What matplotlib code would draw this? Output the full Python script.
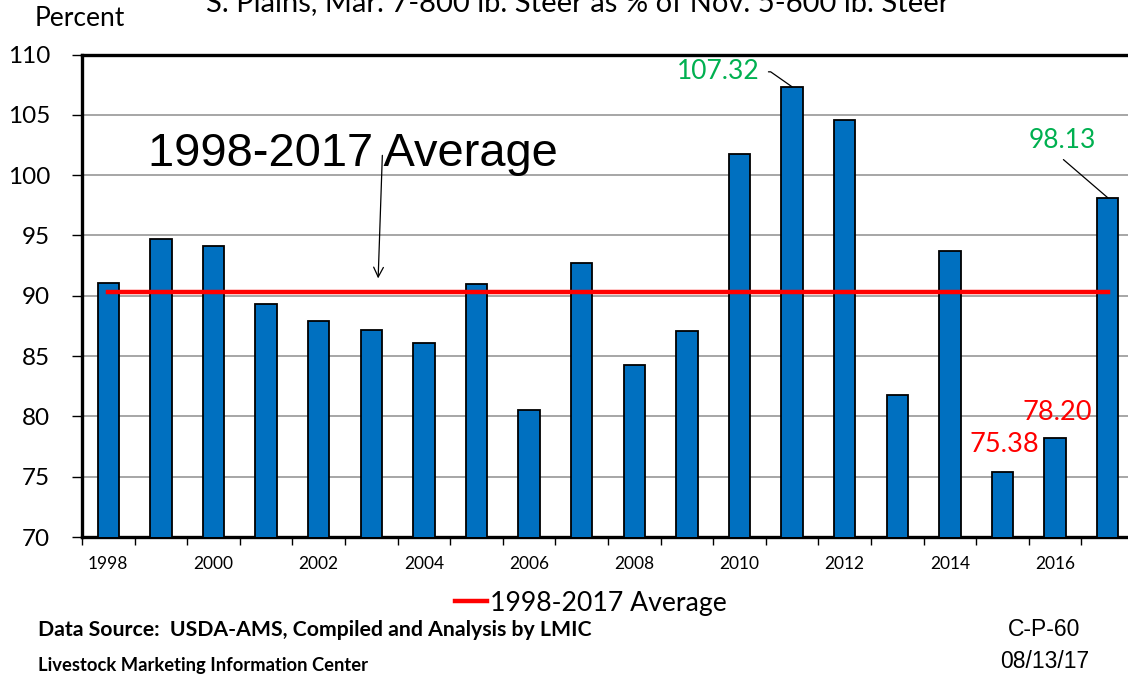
import numpy as np
import matplotlib
matplotlib.use('Agg')
import matplotlib.pyplot as plt
from matplotlib.lines import Line2D

# values
years = list(range(1998, 2018))
pct = [91.08, 94.70, 94.12, 89.29, 87.93, 87.18, 86.10, 90.97, 80.50, 92.70,
       84.25, 87.10, 101.74, 107.32, 104.60, 81.77, 93.70, 75.38, 78.20, 98.13]
ylim = (70, 110)
yticks = [70, 75, 80, 85, 90, 95, 100, 105, 110]
avg_label = '1998-2017 Average'

avg = np.mean(pct)
x = np.arange(len(years))

CAL = ['Lato', 'DejaVu Sans']
ARIAL = ['Liberation Sans', 'DejaVu Sans']

fig = plt.figure(figsize=(11.28, 6.77), dpi=100)
ax = fig.add_axes([82 / 1128, 1 - 537 / 677, 1052 / 1128, 482.5 / 677])

ax.bar(x, pct, width=0.41, color='#0070C0', edgecolor='black', linewidth=1.3, zorder=3)
ax.plot([x[0], x[-1]], [avg, avg], color='#FF0000', lw=3.2, zorder=4)

ax.set_xlim(-0.5, len(years) - 0.5)
ax.set_ylim(*ylim)
ax.set_yticks(yticks)
ax.set_yticklabels([str(v) for v in yticks], family=CAL, fontsize=17.5)
ax.yaxis.grid(True, color='#a6a6a6', lw=1.4, zorder=0)
ax.tick_params(axis='y', direction='out', length=7, width=1, pad=16)

ax.set_xticks(x[::2])
ax.set_xticklabels([str(y) for y in years[::2]], family=CAL, fontsize=12.5)
ax.set_xticks(np.arange(-0.5, len(years)), minor=True)
ax.tick_params(axis='x', which='major', length=0, pad=14)
ax.tick_params(axis='x', which='minor', direction='out', length=6, width=1)

for s in ['left', 'top', 'bottom']:
    ax.spines[s].set_linewidth(2.4)
ax.spines['right'].set_visible(False)

# labelled bars
i11 = years.index(2011)
ax.annotate('%.2f' % pct[i11], xy=(x[i11], pct[i11]), xytext=(-32, 15),
            textcoords='offset pixels', ha='right', va='center', color='#00B050',
            fontsize=19, family=CAL,
            arrowprops=dict(arrowstyle='-', lw=0.9, color='black', relpos=(1, 0.5),
                            shrinkA=4, shrinkB=0,
                            connectionstyle='angle,angleA=0,angleB=-35,rad=0'))
i17 = years.index(2017)
ax.annotate('%.2f' % pct[i17], xy=(x[i17], pct[i17]), xytext=(-45, 57),
            textcoords='offset pixels', ha='center', va='center', color='#00B050',
            fontsize=19, family=CAL,
            arrowprops=dict(arrowstyle='-', lw=0.9, color='black', relpos=(0.4, 0),
                            shrinkA=4, shrinkB=0))
for yr, dx, dy in [(2015, 2, 28), (2016, 2, 26)]:
    i = years.index(yr)
    ax.annotate('%.2f' % pct[i], xy=(x[i], pct[i]), xytext=(dx, dy),
                textcoords='offset pixels', ha='center', va='center', color='#FF0000',
                fontsize=19.5, family=CAL)

# big average callout
fig.text(148 / 1128, 1 - 166 / 677, avg_label, family=ARIAL, fontsize=33.8,
         ha='left', va='baseline')
ax.annotate('', xy=(5.13, avg + 1.1), xytext=(5.21, avg + 11.3),
            arrowprops=dict(arrowstyle='->,head_length=0.7,head_width=0.35',
                            lw=0.9, color='black', shrinkA=0, shrinkB=0))

fig.text(578 / 1128, 1 - 11 / 677,
         'S. Plains, Mar. 7-800 lb. Steer as % of Nov. 5-600 lb. Steer',
         family=CAL, fontsize=21, ha='center', va='baseline')
fig.text(80 / 1128, 1 - 19 / 677, 'Percent', family=CAL, fontsize=19,
         ha='center', va='center')

handle = Line2D([], [], color='#FF0000', lw=3.2)
fig.legend([handle], [avg_label], loc='center', bbox_to_anchor=(591 / 1128, 1 - 603 / 677),
           frameon=False, handlelength=1.2, handletextpad=0.1,
           prop={'family': CAL, 'size': 19.2})

fig.text(38 / 1128, 1 - 630 / 677, 'Data Source:  USDA-AMS, Compiled and Analysis by LMIC',
         family=CAL, fontsize=15.3, fontweight='bold', ha='left', va='center')
fig.text(38 / 1128, 1 - 665 / 677, 'Livestock Marketing Information Center',
         family=CAL, fontsize=13.2, fontweight='bold', ha='left', va='center')
fig.text(1044 / 1128, 1 - 630 / 677, 'C-P-60', family=ARIAL, fontsize=16.5,
         ha='center', va='center')
fig.text(1045 / 1128, 1 - 662 / 677, '08/13/17', family=ARIAL, fontsize=16.5,
         ha='center', va='center')

plt.savefig('out.png', dpi=100)
